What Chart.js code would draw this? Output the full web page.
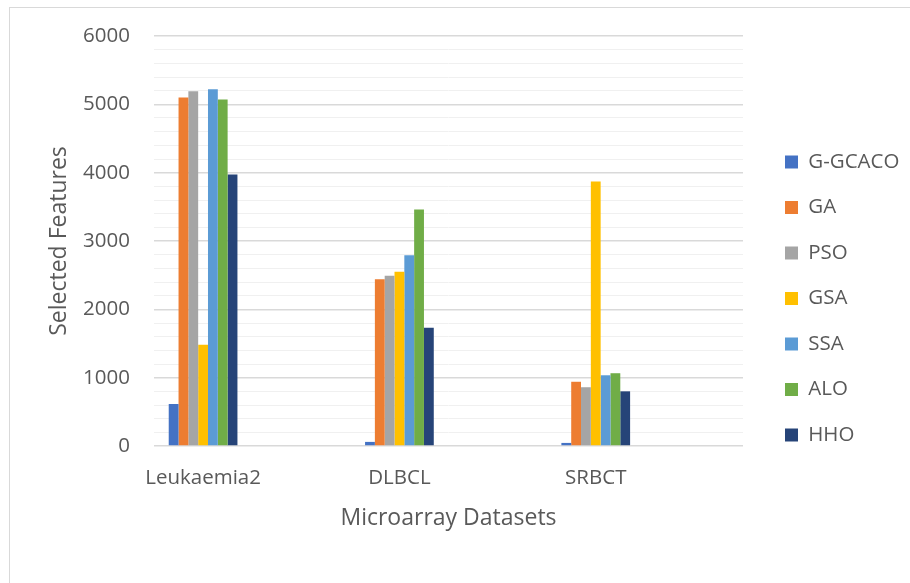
<!DOCTYPE html>
<html>
<head>
<meta charset="utf-8">
<script src="https://cdn.jsdelivr.net/npm/chart.js@4/dist/chart.umd.min.js"></script>
<style>
  html, body { margin: 0; padding: 0; background: #fff; }
  #wrap { position: relative; width: 910px; height: 583px; }
  #frame { position: absolute; left: 9px; top: 7px; right: 0; bottom: 0;
           border-top: 1px solid #D9D9D9; border-left: 1px solid #D9D9D9; }
  canvas { position: absolute; left: 0; top: 0; }
</style>
</head>
<body>
<div id="wrap">
  <div id="frame"></div>
  <canvas id="c" width="910" height="583"></canvas>
</div>
<script>
// Datasets on the category axis
const categories = ['Leukaemia2', 'DLBCL', 'SRBCT'];

// Number of selected features per method
const gGcaco = [615, 60, 45];
const ga     = [5100, 2440, 940];
const pso    = [5190, 2490, 860];
const gsa    = [1480, 2550, 3870];
const ssa    = [5220, 2790, 1035];
const alo    = [5070, 3460, 1065];
const hho    = [3975, 1730, 800];

const seriesNames = ['G-GCACO', 'GA', 'PSO', 'GSA', 'SSA', 'ALO', 'HHO'];
const seriesValues = [gGcaco, ga, pso, gsa, ssa, alo, hho];
const seriesColors = ['#4472C4', '#ED7D31', '#A5A5A5', '#FFC000', '#5B9BD5', '#70AD47', '#264478'];

const FONT = "'Open Sans', sans-serif";
const TEXT = '#595959';

const datasets = seriesNames.map((name, s) => ({
  label: name,
  data: categories.map((_, i) => ({ x: i, y: seriesValues[s][i] })),
  backgroundColor: seriesColors[s],
  borderWidth: 0,
  categoryPercentage: 0.35,
  barPercentage: 1.0
}));

new Chart(document.getElementById('c'), {
  type: 'bar',
  data: { datasets },
  options: {
    responsive: false,
    animation: false,
    layout: { padding: { left: 40, right: 6, top: 36, bottom: 22 } },
    plugins: {
      legend: {
        position: 'right',
        align: 'center',
        labels: {
          font: { family: FONT, size: 20.5 },
          color: TEXT,
          boxWidth: 13,
          boxHeight: 13,
          padding: 25
        }
      },
      tooltip: { enabled: false }
    },
    scales: {
      x: {
        type: 'linear',
        offset: false,
        min: -0.25,
        max: 2.75,
        afterBuildTicks: (scale) => {
          scale.ticks = categories.map((_, i) => ({ value: i }));
        },
        afterFit: (scale) => {
          scale.paddingLeft = 0;
          scale.paddingRight = 0;
          scale.height = 115;
        },
        ticks: {
          callback: (v) => categories[v],
          font: { family: FONT, size: 20.5 },
          color: TEXT,
          padding: 20,
          autoSkip: false,
          maxRotation: 0
        },
        grid: { display: false, drawTicks: false, offset: false },
        border: { display: false },
        title: {
          display: true,
          text: 'Microarray Datasets',
          font: { family: FONT, size: 23 },
          color: TEXT,
          padding: { top: 14, bottom: 29 }
        }
      },
      y: {
        min: 0,
        max: 6000,
        afterFit: (scale) => {
          scale.paddingTop = 0;
          scale.paddingBottom = 0;
          scale.width = 114;
        },
        ticks: {
          stepSize: 200,
          autoSkip: false,
          callback: (v) => (v % 1000 === 0 ? String(v) : ''),
          font: { family: FONT, size: 20.5 },
          color: TEXT,
          padding: 24
        },
        grid: {
          drawTicks: false,
          color: (ctx) => (ctx.tick && ctx.tick.value % 1000 === 0 ? '#D9D9D9' : '#F0F0F0'),
          lineWidth: (ctx) => (ctx.tick && ctx.tick.value % 1000 === 0 ? 1.5 : 1)
        },
        border: { display: false },
        title: {
          display: true,
          text: 'Selected Features',
          font: { family: FONT, size: 23 },
          color: TEXT,
          padding: { top: 6, bottom: 9 }
        }
      },
      // empty spacer between the plot area and the legend
      gap: {
        type: 'linear',
        position: 'right',
        display: true,
        grid: { display: false, drawTicks: false },
        border: { display: false },
        ticks: { display: false },
        afterFit: (scale) => { scale.width = 17; }
      }
    }
  }
});
</script>
</body>
</html>
